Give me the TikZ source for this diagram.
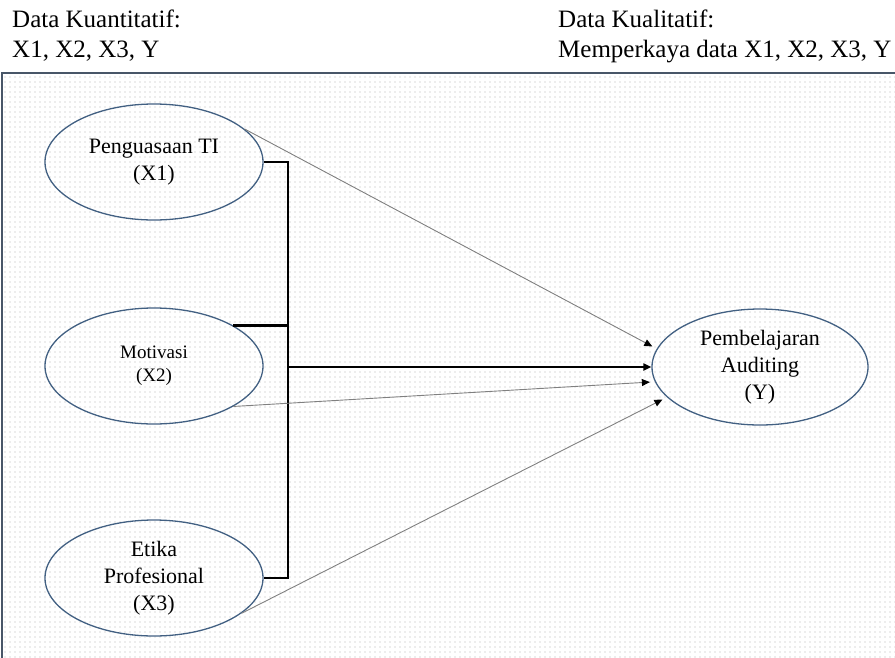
\documentclass[tikz,border=0pt]{standalone}
\usepackage{fontspec}
\setmainfont{Liberation Serif}
\usepackage{xcolor}
\usetikzlibrary{arrows.meta, positioning, shapes.geometric, patterns.meta}

\definecolor{edgeblue}{RGB}{66,96,130}
\definecolor{framegray}{RGB}{72,86,104}

\begin{document}
\begin{tikzpicture}[
    x=1pt, y=-1pt,
    latent/.style={ellipse, draw=edgeblue, line width=1.3pt,
                   minimum width=218pt, minimum height=116pt, inner sep=0pt,
                   align=center, font=\fontsize{22}{27}\selectfont},
    head/.style={anchor=base west, align=left, inner sep=0pt,
                 font=\fontsize{25}{30}\selectfont},
    bus/.style={line width=2.4pt, black},
    arr/.style={-{Triangle[length=8pt, width=7pt, color=black]}},
    link/.style={arr, line width=0.9pt, gray, shorten >=5pt},
]
  \useasboundingbox (0,0) rectangle (895,657);
  \fill[pattern={Dots[distance=5pt, radius=0.6pt]}, pattern color=gray!60]
    (2,73) rectangle (897,659);
  \draw[framegray, line width=1.4pt] (2,73) rectangle (897,659);

  \node[head] (quan) at (12,57)  {Data Kuantitatif:\\X1, X2, X3, Y};
  \node[head] (qual) at (558,57) {Data Kualitatif:\\Memperkaya data X1, X2, X3, Y};

  \node[latent] (x1) at (154,162) {Penguasaan TI\\(X1)};
  \node[latent, font=\fontsize{19}{23}\selectfont] (x2) at (154,366) {Motivasi\\(X2)};
  \node[latent] (x3) at (154,578) {Etika\\Profesional\\(X3)};
  \node[latent, minimum width=216pt] (y) at (760,367) {Pembelajaran\\Auditing\\(Y)};

  \coordinate (busend) at (288,578);
  \coordinate (busmid) at (288,367);

  \draw[bus] (x1.east) -| (busend) -- (x3.east);
  \draw[bus] (x2.27) -- (x2.27 -| busend);
  \draw[bus, arr] (busmid) -- (y.west);

  \draw[link] (x1.20)  -- (y.170);
  \draw[link] (x2.-27) -- (y.188);
  \draw[link] (x3.-22) -- (y.198);
\end{tikzpicture}
\end{document}
